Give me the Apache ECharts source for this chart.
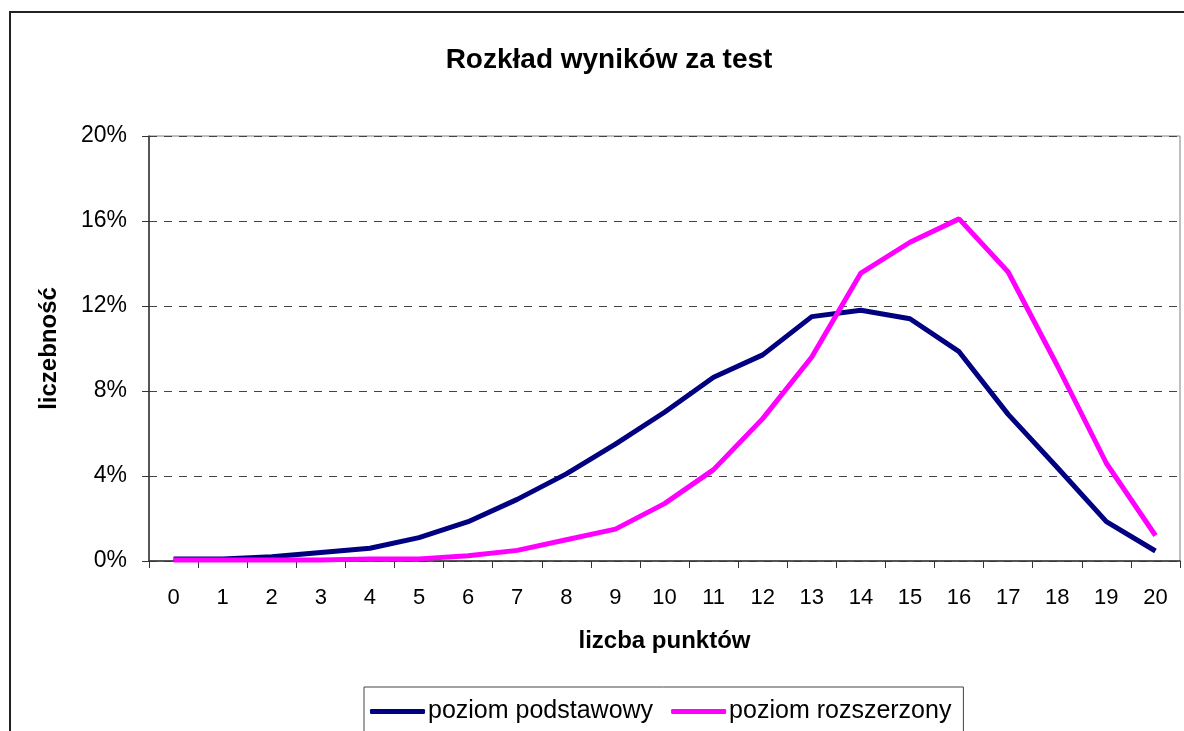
<!DOCTYPE html>
<html><head><meta charset="utf-8">
<script src="https://cdn.jsdelivr.net/npm/echarts@6/dist/echarts.min.js"></script>
<style>html,body{margin:0;padding:0;background:#fff;overflow:hidden}#c{width:1184px;height:731px}</style>
</head><body><div id="c"></div>
<script>
const categories = ['0','1','2','3','4','5','6','7','8','9','10','11','12','13','14','15','16','17','18','19','20'];
const podstawowy = [0.1,0.1,0.2,0.4,0.6,1.1,1.85,2.9,4.1,5.5,7.0,8.65,9.7,11.5,11.8,11.4,9.85,6.9,4.4,1.85,0.47];
const rozszerzony = [0.05,0.05,0.05,0.05,0.1,0.1,0.25,0.5,1.0,1.5,2.7,4.3,6.7,9.6,13.55,15.0,16.1,13.6,9.2,4.6,1.2];
const seriesNames = ['poziom podstawowy','poziom rozszerzony'];
const yTicks = [0,4,8,12,16,20];

const chart = echarts.init(document.getElementById('c'), null, {renderer:'canvas'});
const font = 'Arial, "Liberation Sans", sans-serif';
chart.setOption({
  animation:false,
  backgroundColor:'#fff',
  title:{text:'Rozkład wyników za test',left:604,top:41,textAlign:'center',
    textStyle:{fontFamily:font,fontSize:28,fontWeight:'bold',color:'#000'}},
  graphic:[{type:'rect',shape:{x:10,y:12,width:1250,height:800},
    style:{fill:'none',stroke:'#222',lineWidth:2},z:-1}],
  grid:{left:149,right:4,top:136,height:425,show:true,borderColor:'#808080',borderWidth:1,backgroundColor:'#fff'},
  legend:{left:364,top:687,itemWidth:55,itemHeight:5,itemGap:18,
    padding:[12,12,40,6],borderColor:'#444',borderWidth:1,backgroundColor:'#fff',
    icon:'roundRect',
    textStyle:{fontFamily:font,fontSize:25,color:'#000',padding:[0,0,0,-2]},
    data:seriesNames},
  xAxis:{type:'category',data:categories,boundaryGap:true,
    name:'lizcba punktów',nameLocation:'middle',nameGap:68,
    nameTextStyle:{fontFamily:font,fontSize:24,fontWeight:'bold',color:'#000'},
    axisLine:{lineStyle:{color:'#333',width:1.5}},
    axisTick:{show:true,length:7,alignWithLabel:false,lineStyle:{color:'#333'}},
    axisLabel:{fontFamily:font,fontSize:22,color:'#000',margin:26,interval:0}},
  yAxis:{type:'value',min:0,max:20,interval:4,
    name:'liczebność',nameLocation:'middle',nameGap:88,
    nameTextStyle:{fontFamily:font,fontSize:24,fontWeight:'bold',color:'#000'},
    axisLine:{show:true,lineStyle:{color:'#333',width:1.5}},
    axisTick:{show:true,length:7,lineStyle:{color:'#333'}},
    axisLabel:{fontFamily:font,fontSize:23,color:'#000',margin:22,formatter:v=>v+'%'},
    splitLine:{show:true,lineStyle:{color:'#444',type:[8,7],width:1}}},
  series:[
    {name:seriesNames[0],type:'line',data:podstawowy,symbol:'none',
      lineStyle:{color:'#000080',width:5},itemStyle:{color:'#000080'}},
    {name:seriesNames[1],type:'line',data:rozszerzony,symbol:'none',
      lineStyle:{color:'#FF00FF',width:5},itemStyle:{color:'#FF00FF'}}
  ]
});
</script></body></html>
